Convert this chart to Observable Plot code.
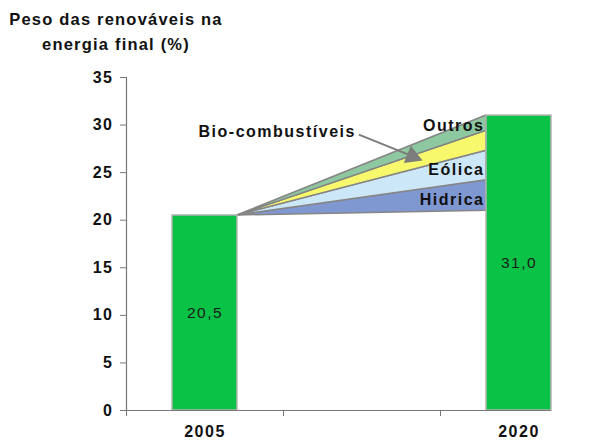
<!DOCTYPE html>
<html>
<head>
<meta charset="utf-8">
<script src="https://cdn.jsdelivr.net/npm/d3@7"></script>
<script src="https://cdn.jsdelivr.net/npm/@observablehq/plot@0.6"></script>
<style>
  html, body { margin: 0; padding: 0; background: #fff; }
  #wrap { position: relative; width: 591px; height: 443px; }
  #title { position: absolute; left: 0; top: 7px; width: 232px; text-align: center;
    font: bold 16.5px "Liberation Sans", Arial, sans-serif; letter-spacing: 1.2px; line-height: 25px; color: #111; }
  #chart { position: absolute; left: 0; top: 0; }
</style>
</head>
<body>
<div id="wrap">
  <div id="chart"></div>
  <div id="title">Peso das renováveis na<br>energia final (%)</div>
</div>
<script>
// ---- data ----
const categories = ["2005", "", "2020"];
const totals = [20.5, null, 31.0];
const valueLabels = ["20,5", "", "31,0"];
const sources = ["Hidrica", "Eólica", "Bio-combustíveis", "Outros"];
const sourceBottoms = [21.0, 24.2, 27.3, 29.4];
const sourceTops = [24.2, 27.3, 29.4, 31.0];
const sourceColors = ["#8098d2", "#cce8f8", "#f8f86c", "#8ec8a0"];
const yTicks = [0, 5, 10, 15, 20, 25, 30, 35];
const bioLabel = {text: "Bio-combustíveis", x: 0.96, y: 29.3};
const bioArrow = {x1: 1.48, y1: 29.0, x2: 1.84, y2: 26.6};

// ---- derived ----
const W = 591, H = 443, mL = 126, mR = 40, mT = 77, mB = 33;
const barW = 0.414;
const bars = categories.map((c, i) => ({c, i, v: totals[i], label: valueLabels[i]})).filter(d => d.v != null);
const start = bars[0], end = bars[bars.length - 1];
const xMax = end.i + 0.5 + barW / 2;
const xL = start.i + 0.5 + barW / 2;
const xR = end.i + 0.5 - barW / 2;
const wedges = [];
sources.forEach((s, k) => {
  wedges.push({s, x: xL, y1: start.v, y2: start.v});
  wedges.push({s, x: xR, y1: sourceBottoms[k], y2: sourceTops[k]});
});
const wedgeLabels = sources.map((s, k) => ({s, y: sourceBottoms[k] + (sourceTops[k] - sourceBottoms[k]) * 0.35}))
  .filter(d => d.s !== bioLabel.text);
// arrow head orientation in pixels
const kx = (W - mL - mR) / xMax, ky = (H - mT - mB) / 35;
const adx = (bioArrow.x2 - bioArrow.x1) * kx, ady = (bioArrow.y1 - bioArrow.y2) * ky;
const headRot = Math.atan2(ady, adx) * 180 / Math.PI + 90;

const chart = Plot.plot({
  width: W,
  height: H,
  marginLeft: mL,
  marginRight: mR,
  marginTop: mT,
  marginBottom: mB,
  style: {fontFamily: "Liberation Sans, Arial, sans-serif", fontSize: "16px", fontWeight: "bold", color: "#111", background: "#fff", letterSpacing: "1.5px"},
  x: {domain: [0, xMax], axis: null},
  y: {domain: [0, 35], axis: null},
  color: {domain: sources, range: sourceColors},
  marks: [
    Plot.areaY(wedges, {x: "x", y1: "y1", y2: "y2", z: "s", fill: "s", stroke: "#858585", strokeWidth: 1.5, curve: "linear"}),
    Plot.rect(bars, {x1: d => d.i + 0.5 - barW / 2, x2: d => d.i + 0.5 + barW / 2, y1: 0, y2: "v", fill: "#0ac246", stroke: "#b4b4b4", strokeWidth: 1.5}),
    Plot.text(bars, {x: d => d.i + 0.5, y: d => d.v / 2, text: "label", fontSize: 15.5, fontWeight: "normal", fill: "#1a1a1a", letterSpacing: "1px"}),
    Plot.text(wedgeLabels, {x: xR, y: "y", text: "s", textAnchor: "end", dx: -2, fill: "#111"}),
    Plot.text([bioLabel], {x: "x", y: "y", text: "text", fill: "#111"}),
    Plot.link([bioArrow], {x1: "x1", y1: "y1", x2: "x2", y2: "y2", stroke: "#7c7c7c", strokeWidth: 2}),
    Plot.dot([bioArrow], {x: "x2", y: "y2", symbol: "triangle", r: 7, rotate: headRot, fill: "#7c7c7c", stroke: "none", dx: -3, dy: -1}),
    Plot.ruleX([0], {stroke: "#777", strokeWidth: 1.2}),
    Plot.ruleY([0], {stroke: "#777", strokeWidth: 1.2}),
    Plot.axisY({ticks: yTicks, tickSize: 6, tickPadding: 7, stroke: "#777", fill: "#111", tickFormat: d => String(d)}),
    Plot.axisX({ticks: [0, 1, 2], tickSize: 6, tickFormat: () => "", stroke: "#777"}),
    Plot.axisX({ticks: bars.map(d => d.i + 0.5), tickSize: 0, tickPadding: 15, tickFormat: d => categories[Math.floor(d)], fill: "#111"})
  ]
});
document.getElementById("chart").appendChild(chart);
</script>
</body>
</html>
